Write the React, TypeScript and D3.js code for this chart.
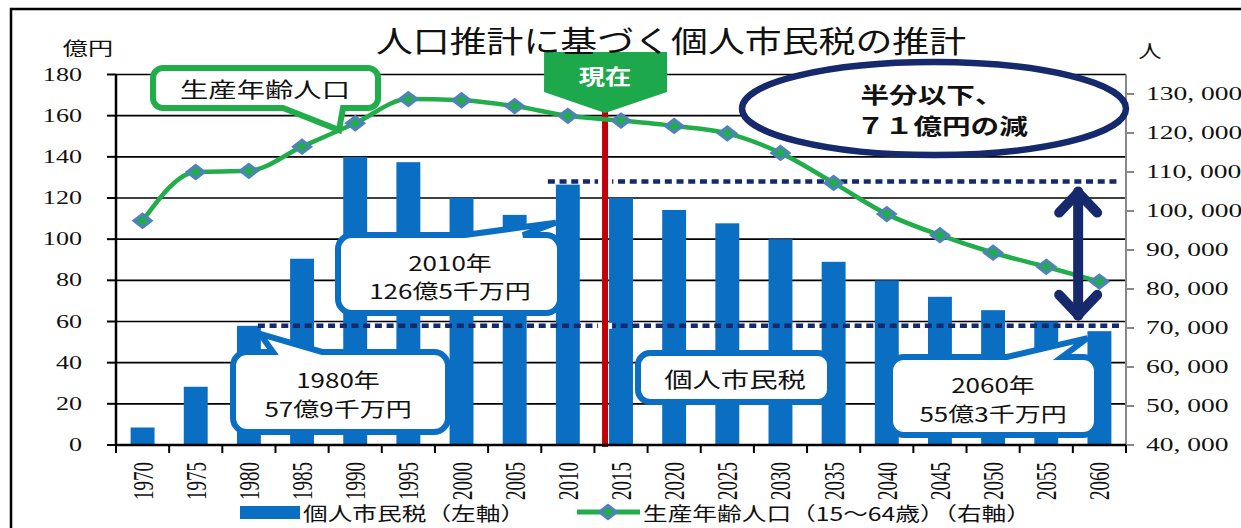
import React from "react";
import * as d3 from "d3";

// ---------------- data ----------------
const years = ["1970","1975","1980","1985","1990","1995","2000","2005","2010","2015","2020","2025","2030","2035","2040","2045","2050","2055","2060"];
const taxValues = [8.5, 28.3, 57.9, 90.5, 140, 137.4, 120, 111.8, 126.5, 120, 114.2, 107.7, 100, 89, 80, 72, 65.5, 60, 55.3];
const population = [97500, 110000, 110300, 116500, 122500, 128700, 128400, 126900, 124400, 123200, 121800, 119900, 114900, 107200, 99200, 93800, 89300, 85700, 81900];
const leftTicks = [0, 20, 40, 60, 80, 100, 120, 140, 160, 180];
const rightTicks = [40000, 50000, 60000, 70000, 80000, 90000, 100000, 110000, 120000, 130000];
const presentYear = 2013.5;
const refHigh = 126.5; // 2010
const refLow = 57.9;   // 1980
const finalValue = 55.3; // 2060

const title = "人口推計に基づく個人市民税の推計";
const leftUnit = "億円";
const rightUnit = "人";
const legendBar = "個人市民税（左軸）";
const legendLine = "生産年齢人口（15～64歳）（右軸）";

// ---------------- styles ----------------
const W = 1241, H = 528;
const JP = "'Noto Sans CJK JP', 'Noto Sans', sans-serif";
const SERIF = "'Liberation Serif', 'DejaVu Serif', serif";
const BLUE = "#0a6fc2";
const GREEN = "#22ad4b";
const NAVY = "#15296c";
const RED = "#c0000a";

const plot = { left: 116, right: 1126, top: 74.5, bottom: 445 };

const xBand = d3.scaleBand<string>().domain(years).range([plot.left, plot.right]).padding(0);
const xBar = d3.scaleBand<string>().domain(years).range([plot.left, plot.right]).paddingInner(0.55).paddingOuter(0.275);
const center = (y: string) => (xBand(y) as number) + xBand.bandwidth() / 2;
const xYear = d3.scaleLinear().domain([+years[0], +years[years.length - 1]]).range([center(years[0]), center(years[years.length - 1])]);
const yL = d3.scaleLinear().domain([0, 180]).range([plot.bottom, plot.top]);
const yR = d3.scaleLinear().domain([40000, 135000]).range([plot.bottom, plot.top]);

function T(props: any) {
  const { x, y, sx = 1.3, size = 20, anchor = "middle", weight = 400, fill = "#111", family = JP, rotate, ls, children } = props;
  return (
    <text
      transform={`translate(${x},${y}) scale(${sx},1)${rotate != null ? ` rotate(${rotate})` : ""}`}
      fontSize={size}
      textAnchor={anchor}
      dominantBaseline="central"
      fontWeight={weight}
      fill={fill}
      fontFamily={family}
      letterSpacing={ls}
    >
      {children}
    </text>
  );
}

type Tail = { side: "top" | "bottom"; a: number; b: number; tx: number; ty: number };
function calloutPath(x: number, y: number, w: number, h: number, r: number, tail?: Tail) {
  const p = d3.path();
  p.moveTo(x + r, y);
  if (tail && tail.side === "top") { p.lineTo(tail.a, y); p.lineTo(tail.tx, tail.ty); p.lineTo(tail.b, y); }
  p.lineTo(x + w - r, y);
  p.arcTo(x + w, y, x + w, y + r, r);
  p.lineTo(x + w, y + h - r);
  p.arcTo(x + w, y + h, x + w - r, y + h, r);
  if (tail && tail.side === "bottom") { p.lineTo(tail.a, y + h); p.lineTo(tail.tx, tail.ty); p.lineTo(tail.b, y + h); }
  p.lineTo(x + r, y + h);
  p.arcTo(x, y + h, x, y + h - r, r);
  p.lineTo(x, y + r);
  p.arcTo(x, y, x + r, y, r);
  p.closePath();
  return p.toString();
}

const diamond = "M0,-6.5L8.5,0L0,6.5L-8.5,0Z";

export default function App() {
  const linePath = d3.line<number>()
    .x((_, i) => center(years[i]))
    .y((d) => yR(d))
    .curve(d3.curveMonotoneX)(population) as string;

  const xPresent = xYear(presentYear);
  const yHigh = yL(refHigh) - 3;
  const yLow = yL(refLow);
  const xArrow = xYear(2058);

  const c1980 = center("1980");
  const c2010 = center("2010");
  const c2060 = center("2060");

  return (
    <svg width={W} height={H} style={{ position: "absolute", left: 0, top: 0, background: "#fff" }}>
      <rect x={0} y={0} width={W} height={H} fill="#fff" />
      {/* outer frame */}
      <rect x={11} y={9} width={1300} height={600} fill="none" stroke="#000" strokeWidth={2.5} />

      {/* gridlines */}
      {leftTicks.filter((t) => t > 0).map((t) => (
        <line key={"g" + t} x1={plot.left} x2={plot.right} y1={yL(t)} y2={yL(t)} stroke="#000" strokeWidth={1.6} />
      ))}

      {/* bars */}
      {years.map((yr, i) => (
        <rect key={"b" + yr} x={xBar(yr)} y={yL(taxValues[i])} width={xBar.bandwidth()} height={plot.bottom - yL(taxValues[i])} fill={BLUE} />
      ))}

      {/* dotted reference lines */}
      <line x1={c2010 - 20} x2={plot.right - 8} y1={yHigh} y2={yHigh} stroke={NAVY} strokeWidth={4.5} strokeDasharray="7 4.7" />
      <line x1={c1980 + 9} x2={plot.right - 6} y1={yLow} y2={yLow} stroke={NAVY} strokeWidth={4.5} strokeDasharray="7 4.7" />

      {/* present red line, with small white gaps where it crosses the dotted lines */}
      <line x1={xPresent} x2={xPresent} y1={yHigh - 3} y2={yHigh + 3} stroke="#fff" strokeWidth={14} />
      <line x1={xPresent} x2={xPresent} y1={yLow - 3} y2={yLow + 3} stroke="#fff" strokeWidth={14} />
      <line x1={xPresent} x2={xPresent} y1={110} y2={plot.bottom + 2} stroke={RED} strokeWidth={6} />

      {/* population line */}
      <path d={linePath} fill="none" stroke={GREEN} strokeWidth={4.5} />
      {population.map((v, i) => (
        <path key={"m" + i} d={diamond} transform={`translate(${center(years[i])},${yR(v)})`} fill={GREEN} stroke="#4f81bd" strokeWidth={3} />
      ))}

      {/* axes */}
      <line x1={plot.right} x2={plot.right} y1={plot.top} y2={plot.bottom} stroke="#888" strokeWidth={2} />
      {rightTicks.map((t) => (
        <g key={"rt" + t}>
          <line x1={plot.right} x2={plot.right + 8} y1={yR(t)} y2={yR(t)} stroke="#888" strokeWidth={2} />
          <T x={1146} y={yR(t)} anchor="start" size={19} sx={1.45} family={SERIF}>{d3.format(",")(t).replace(",", ", ")}</T>
        </g>
      ))}
      <line x1={plot.left} x2={plot.left} y1={plot.top} y2={plot.bottom} stroke="#000" strokeWidth={2.5} />
      {leftTicks.map((t) => (
        <g key={"lt" + t}>
          <line x1={plot.left - 9} x2={plot.left} y1={yL(t)} y2={yL(t)} stroke="#000" strokeWidth={2} />
          <T x={82} y={yL(t)} anchor="end" size={18} sx={1.45} family={SERIF}>{t}</T>
        </g>
      ))}
      <line x1={plot.left} x2={plot.right} y1={plot.bottom} y2={plot.bottom} stroke="#000" strokeWidth={2.5} />
      {years.map((yr) => (
        <line key={"xt" + yr} x1={xBand(yr)} x2={xBand(yr)} y1={plot.bottom} y2={plot.bottom + 8} stroke="#000" strokeWidth={2} />
      ))}
      <line x1={plot.right} x2={plot.right} y1={plot.bottom} y2={plot.bottom + 8} stroke="#000" strokeWidth={2} />
      {years.map((yr) => (
        <T key={"xl" + yr} x={center(yr)} y={462} anchor="end" size={19} sx={1.5} family={SERIF} rotate={-90}>{yr}</T>
      ))}
      <T x={88} y={47} size={18} sx={1.4}>{leftUnit}</T>
      <T x={1150} y={50} size={18} sx={1.3}>{rightUnit}</T>

      {/* green callout */}
      <path d={calloutPath(153, 68, 225, 40, 10, { side: "bottom", a: 343, b: 283, tx: 339, ty: 130 })} fill="#fff" stroke={GREEN} strokeWidth={6} />
      <T x={265} y={88} size={21} sx={1.35}>生産年齢人口</T>

      {/* 2010 callout */}
      <path d={calloutPath(338, 235, 222, 78, 14, { side: "top", a: 465, b: 523, tx: c2010 - 12, ty: yL(refHigh) + 38 })} fill="#fff" stroke={BLUE} strokeWidth={6} />
      <T x={450} y={262} size={20} sx={1.3}>2010年</T>
      <T x={450} y={290} size={20} sx={1.3}>126億5千万円</T>

      {/* 1980 callout */}
      <path d={calloutPath(233, 352, 215, 80, 14, { side: "top", a: 273, b: 322, tx: c1980 + 11, ty: yL(refLow) + 8 })} fill="#fff" stroke={BLUE} strokeWidth={6} />
      <T x={338} y={379} size={20} sx={1.3}>1980年</T>
      <T x={338} y={408} size={20} sx={1.3}>57億9千万円</T>

      {/* 個人市民税 callout */}
      <path d={calloutPath(638, 353, 192, 49, 12)} fill="#fff" stroke={BLUE} strokeWidth={6} />
      <T x={735} y={378} size={21} sx={1.35}>個人市民税</T>

      {/* 2060 callout */}
      <path d={calloutPath(890, 357, 207, 78, 14, { side: "top", a: 1007, b: 1062, tx: c2060 - 12, ty: yL(finalValue) + 7 })} fill="#fff" stroke={BLUE} strokeWidth={6} />
      <T x={993} y={384} size={20} sx={1.3}>2060年</T>
      <T x={993} y={413} size={20} sx={1.3}>55億3千万円</T>

      {/* ellipse */}
      <ellipse cx={934} cy={108.5} rx={192} ry={46.5} fill="#fff" stroke={NAVY} strokeWidth={6.5} />
      <T x={932} y={93} size={22} sx={1.3} weight={700}>半分以下、</T>
      <T x={942} y={124} size={22} sx={1.3} weight={700}>７１億円の減</T>

      {/* double arrow */}
      <g stroke={NAVY} strokeWidth={10} strokeLinecap="round" strokeLinejoin="round" fill="none">
        <line x1={xArrow} x2={xArrow} y1={yHigh + 10} y2={yLow - 10} />
        <polyline points={`${xArrow - 19},${yHigh + 31} ${xArrow},${yHigh + 11} ${xArrow + 19},${yHigh + 31}`} />
        <polyline points={`${xArrow - 19},${yLow - 31} ${xArrow},${yLow - 11} ${xArrow + 19},${yLow - 31}`} />
      </g>

      {/* 現在 marker */}
      <path d={`M${xPresent - 61},52 L${xPresent + 62},52 L${xPresent + 62},92 L${xPresent},113 L${xPresent - 61},92 Z`} fill="#1ea84c" />
      <T x={xPresent} y={75} size={21} sx={1.25} weight={700} fill="#fff">現在</T>

      {/* title */}
      <T x={671} y={39} size={30} sx={1.23}>{title}</T>

      {/* legend */}
      <rect x={240} y={506} width={60} height={13} fill={BLUE} />
      <T x={303} y={512} anchor="start" size={19} sx={1.3}>{legendBar}</T>
      <line x1={577} x2={640} y1={512} y2={512} stroke={GREEN} strokeWidth={5} />
      <path d={diamond} transform={`translate(608,512)`} fill={GREEN} stroke="#4f81bd" strokeWidth={3} />
      <T x={643} y={512} anchor="start" size={19} sx={1.3}>{legendLine}</T>
    </svg>
  );
}
